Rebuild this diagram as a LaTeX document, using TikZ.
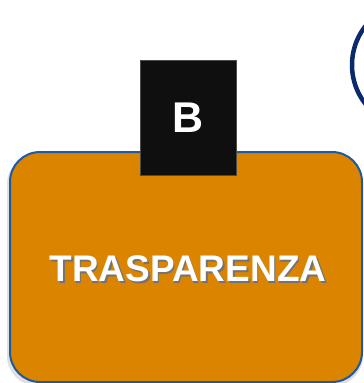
\documentclass[tikz,border=0pt]{standalone}
\usepackage{fontspec}
\setmainfont{Liberation Sans}
\definecolor{boxorange}{HTML}{DB8400}
\definecolor{boxblue}{HTML}{1F5AA0}
\definecolor{navy}{HTML}{0B2A6B}
\definecolor{tagblack}{HTML}{0F0F0F}
\tikzset{
  mainbox/.style={draw=boxblue, line width=2pt, fill=boxorange, rounded corners=30pt},
  tagbox/.style={draw=gray!60!black, line width=0.5pt, fill=tagblack},
  ring/.style={draw=navy, line width=4.5pt},
}
\begin{document}
\begin{tikzpicture}[x=1pt,y=-1pt]
\useasboundingbox (0,0) rectangle (364,383);
% shadow of box
\fill[black!12, rounded corners=30pt] (7,154) rectangle (363,386);
\draw[mainbox] (10,152) rectangle (362,382);
\node[circle, ring, minimum size=126pt, inner sep=0pt] (circ) at (415,65) {};
\draw[tagbox] (140,60) rectangle (236,175);
\node[text=white, font=\bfseries\fontsize{43}{43}\selectfont] (b) at (188,118) {B};
\node[text=black!55, font=\bfseries\fontsize{37}{37}\selectfont] (tshadow) at (189.5,270.5) {TRASPARENZA};
\node[text=white, font=\bfseries\fontsize{37}{37}\selectfont] (t) at (188,269) {TRASPARENZA};
\end{tikzpicture}
\end{document}
